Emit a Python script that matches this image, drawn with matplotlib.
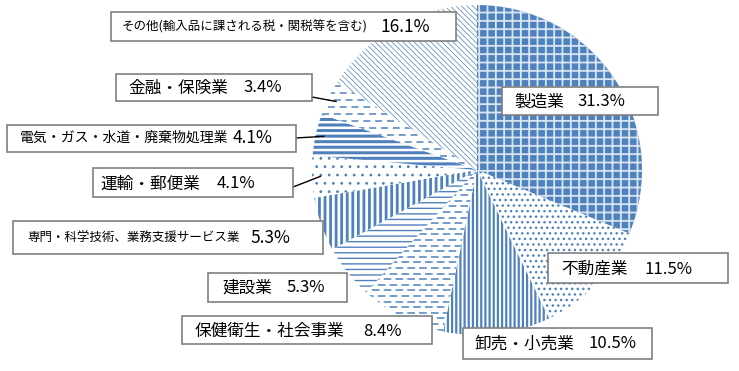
import numpy as np
import matplotlib
matplotlib.use('Agg')
import matplotlib.pyplot as plt
from matplotlib.patches import Rectangle

plt.rcParams['font.family'] = ['Noto Sans CJK JP', 'DejaVu Sans']
plt.rcParams['lines.scale_dashes'] = False

# share of value added by industry (%), clockwise from 12 o'clock
industries = ['製造業', '不動産業', '卸売・小売業', '保健衛生・社会事業', '建設業',
              '専門・科学技術、業務支援サービス業', '運輸・郵便業',
              '電気・ガス・水道・廃棄物処理業', '金融・保険業',
              'その他(輸入品に課される税・関税等を含む)']
shares = [31.3, 11.5, 10.5, 8.4, 5.3, 5.3, 4.1, 4.1, 3.4, 16.1]

BLUE = '#4F81BD'
W, H = 739, 371
CX, CY, R = 477, 170, 165

fig = plt.figure(figsize=(W / 100, H / 100), dpi=100)
ax = fig.add_axes([0, 0, 1, 1])

wedges, _ = ax.pie(shares, center=(CX, CY), radius=R, startangle=-90,
                   counterclock=True, frame=True)
ax.set_xlim(0, W)
ax.set_ylim(H, 0)
ax.axis('off')

# fill patterns: (facecolor, hatch colour, hatch, hatch linewidth)
styles = [
    (BLUE, '#dbe5f1', '++', 1.3),       # 製造業
    ('white', BLUE, '...', 1.0),        # 不動産業
    ('white', BLUE, '||||', 1.6),       # 卸売・小売業
    ('white', BLUE, None, 1.0),         # 保健衛生 (dashed, drawn below)
    ('white', BLUE, '---', 1.0),        # 建設業
    ('white', BLUE, '|||', 2.0),        # 専門
    ('white', BLUE, '..', 0.8),         # 運輸
    ('white', BLUE, '---', 2.2),        # 電気
    ('white', BLUE, None, 1.0),         # 金融 (dashed, drawn below)
    ('white', BLUE, '\\\\\\\\\\\\', 0.5),  # その他
]
for w, (fc, hc, hatch, hlw) in zip(wedges, styles):
    w.set_facecolor(fc)
    w.set_edgecolor(hc)
    w.set_linewidth(0)
    if hatch:
        w.set_hatch(hatch)
        if hasattr(w, 'set_hatch_linewidth'):
            w.set_hatch_linewidth(hlw)


def dashed_fill(w, step, dash, gap, lw):
    # horizontal dashed lines clipped to the wedge
    ext = w.get_path().get_extents()
    ys = np.arange(ext.y0 + step / 2, ext.y1, step)
    for i, y in enumerate(ys):
        off = 0 if i % 2 == 0 else (dash + gap) / 2
        ln, = ax.plot([ext.x0, ext.x1], [y, y], color=BLUE, lw=lw,
                      linestyle=(off, (dash, gap)), dash_capstyle='butt')
        ln.set_clip_path(w)


dashed_fill(wedges[3], 5.6, 5.5, 3.0, 1.1)
dashed_fill(wedges[8], 7.0, 5.0, 3.5, 1.1)

# label boxes: box (x0, x1, y0, y1), name x, pct x, centre y, name size, pct size
boxes = [
    ((502, 658, 87, 115), 514, 577, 102, 12, 12),
    ((548, 728, 253, 283), 561, 645, 269, 12, 12),
    ((463, 652, 328, 359), 475, 589, 344, 12, 12),
    ((182, 432, 316, 344), 195, 363, 331, 12, 12),
    ((208, 347, 273, 302), 222, 287, 288, 12, 12),
    ((13, 323, 221, 254), 27, 250, 238, 9, 12.5),
    ((93, 293, 168, 197), 100, 217, 184, 12, 12),
    ((7, 296, 125, 152), 20, 233, 138, 10, 12.5),
    ((116, 312, 74, 101), 128, 243, 88, 12, 12),
    ((111, 456, 12, 41), 122, 380, 27, 9, 12.5),
]
for name, val, (bx, nx, px, yc, ns, ps) in zip(industries, shares, boxes):
    x0, x1, y0, y1 = bx
    ax.add_patch(Rectangle((x0, y0), x1 - x0, y1 - y0, facecolor='white',
                           edgecolor='#7f7f7f', lw=1.2, zorder=5))
    ax.text(nx, yc, name, fontsize=ns, va='center', ha='left', zorder=6)
    ax.text(px, yc, f'{val}%', fontsize=ps, va='center', ha='left', zorder=6)

# leader lines for the small slices on the left
cum = np.cumsum([0] + shares)
for i, (bx_end, by) in zip([6, 7, 8], [(293, 187), (296, 138), (312, 97)]):
    mid = (cum[i] + cum[i + 1]) / 2 / 100 * 2 * np.pi
    r = 0.95 * R
    ex, ey = CX + r * np.sin(mid), CY - r * np.cos(mid)
    ax.plot([bx_end, ex], [by, ey], color='black', lw=1.0, zorder=4)

plt.savefig('out.png', dpi=100)
plt.close()
